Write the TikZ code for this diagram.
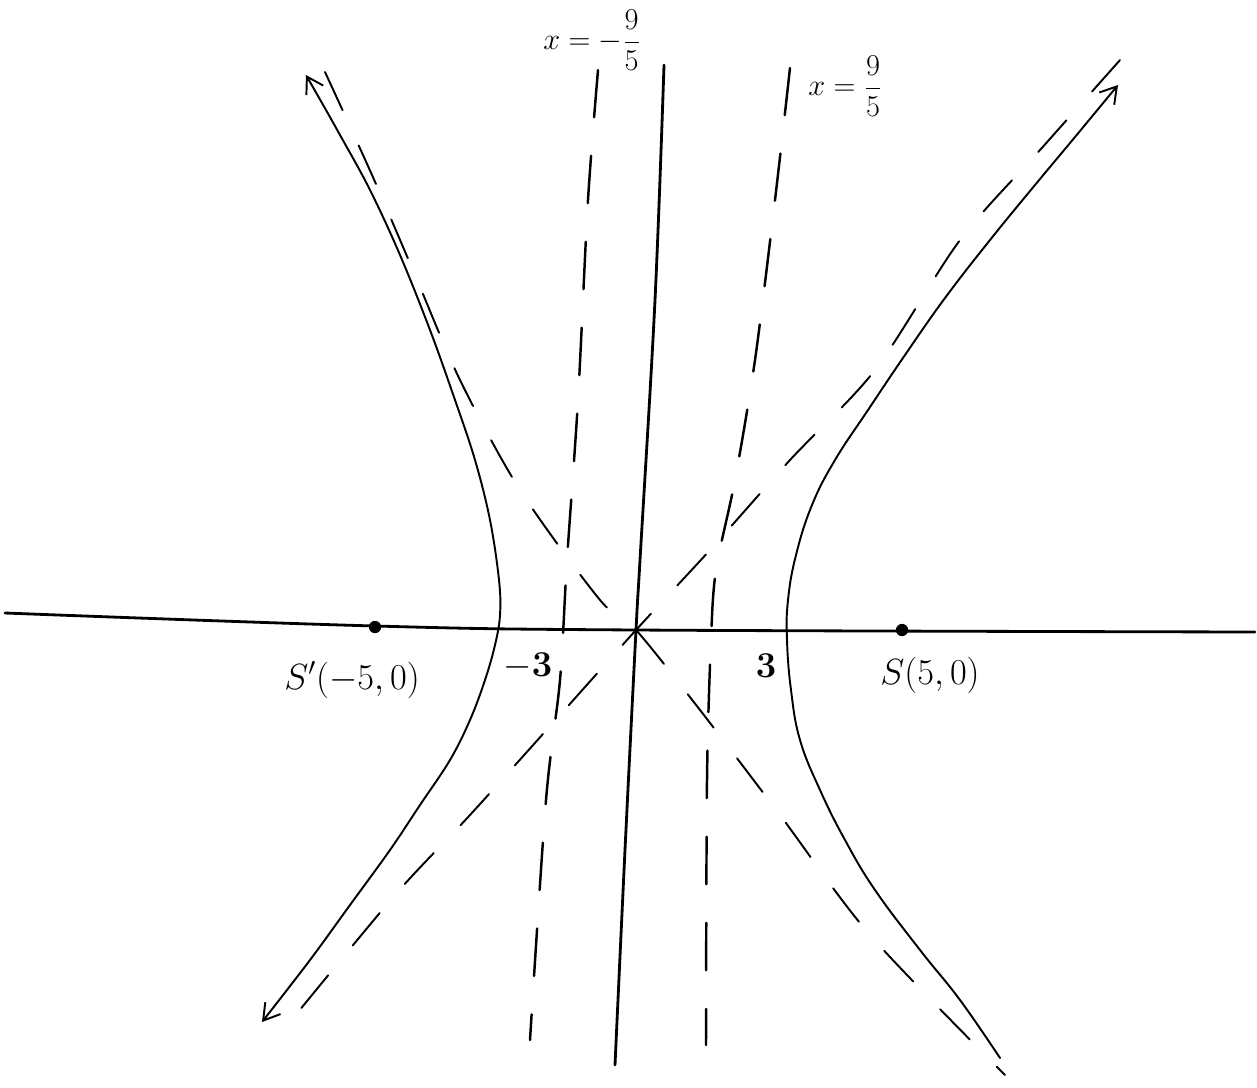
\documentclass[tikz,border=0pt]{standalone}
\usetikzlibrary{arrows.meta}
\begin{document}
\begin{tikzpicture}[x=0.02cm,y=-0.02cm,
  branch/.style={line width=1.1pt, line cap=round, line join=round},
  axis/.style={line width=1.6pt, line cap=round},
  asym/.style={line width=1.1pt, dash pattern=on 24pt off 22pt, line cap=round},
  dirx/.style={line width=1.4pt, dash pattern=on 27pt off 22pt, line cap=round},
  lbl/.style={font=\fontsize{22}{26}\selectfont, inner sep=0pt},
  dlbl/.style={font=\fontsize{18}{22}\selectfont, inner sep=0pt},
  tip/.style={-{Straight Barb[length=9pt,width=11pt,line width=1.1pt]}},
  focus/.style={circle, fill=black, inner sep=0pt, minimum size=7pt}]
\useasboundingbox (0,0) rectangle (1257,1088);

% origin
\coordinate (O) at (636,630);

% axes
\draw[axis] plot[smooth, tension=0.6] coordinates {(5,613) (375,626) (636,630) (1255,632)};
\draw[axis] plot[smooth, tension=0.6] coordinates {(664,65) (655,300) (640,560) (636,630) (625,850) (615,1065)};

% asymptotes (dashed)
\draw[asym] plot[smooth, tension=0.5] coordinates {(325,72) (372,175) (415,275) (460,380) (520,490) (600,600) (636,630) (700,710) (780,815) (870,935) (1005,1075)};
\draw[asym] plot[smooth, tension=0.5] coordinates {(1120,60) (1040,150) (960,240) (875,370) (790,460) (710,550) (636,630) (560,715) (470,815) (395,895) (285,1028)};

% directrices (dashed)
\draw[dirx] plot[smooth, tension=0.5] coordinates {(598,70) (588,200) (578,400) (567,560) (560,680) (546,800) (530,1040)};
\draw[dirx] plot[smooth, tension=0.5] coordinates {(790,68) (775,200) (755,360) (735,480) (716,570) (711,640) (707,780) (706,1045)};

% hyperbola branches
\draw[branch, {Straight Barb[length=9pt,width=11pt,line width=1.1pt]}-{Straight Barb[length=9pt,width=11pt,line width=1.1pt]}]
  plot[smooth, tension=0.6] coordinates {(306,75) (340,135) (370,190) (400,255) (430,330) (455,400) (475,460) (490,520) (499,580) (500,615) (495,645) (485,680) (470,720) (450,760) (420,805) (390,850) (350,905) (310,960) (262,1022)};
\draw[branch, tip]
  plot[smooth, tension=0.7] coordinates {(1000,1058) (960,1000) (920,950) (875,890) (845,840) (820,790) (800,740) (791,690) (787,640) (788,600) (796,555) (812,505) (835,460) (868,410) (905,355) (945,298) (990,240) (1035,185) (1075,137) (1118,85)};

% foci
\node[focus] (F1) at (375,627) {};
\node[focus] (F2) at (902,630) {};

% labels
\node[lbl] (lF1) at (352,680) {$S'(-5,0)$};
\node[lbl] (lF2) at (930,675) {$S(5,0)$};
\node[lbl] (lm3) at (528,666) {$\mathbf{-3}$};
\node[lbl] (lp3) at (766,666) {$\mathbf{3}$};
\node[dlbl, anchor=east] (ld1) at (641,40) {$\displaystyle x=-\frac{9}{5}$};
\node[dlbl, anchor=west] (ld2) at (808,86) {$\displaystyle x=\frac{9}{5}$};
\end{tikzpicture}
\end{document}
